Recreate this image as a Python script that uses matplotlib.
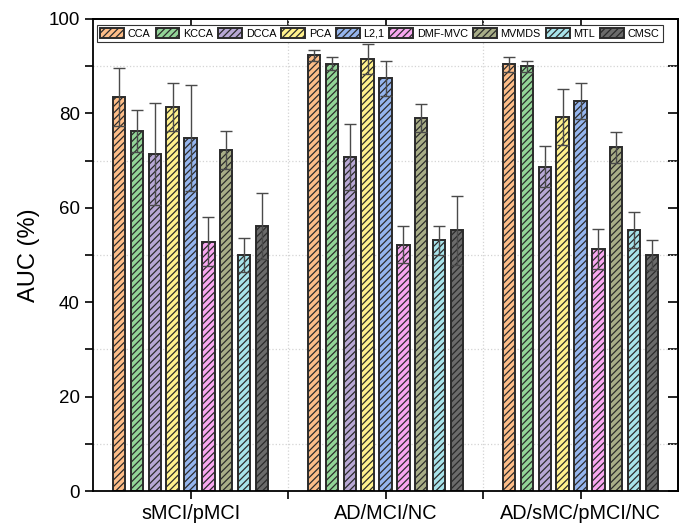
import numpy as np
import matplotlib.pyplot as plt
from matplotlib.ticker import MultipleLocator, FixedLocator

plt.rcParams['font.family'] = ['Liberation Sans', 'DejaVu Sans']
plt.rcParams['hatch.linewidth'] = 0.9

tasks = ['sMCI/pMCI', 'AD/MCI/NC', 'AD/sMC/pMCI/NC']
methods = ['CCA', 'KCCA', 'DCCA', 'PCA', 'L2,1', 'DMF-MVC', 'MVMDS', 'MTL', 'CMSC']
colors = ['#FDBD88', '#92D497', '#B8A8D5', '#FFF18C', '#95B5EE',
          '#F8A7F0', '#A8AD87', '#A8E3EA', '#6B6B6B']

# AUC mean per method, one entry per task
auc = {
    'CCA':     [83.5, 92.3, 90.4],
    'KCCA':    [76.3, 90.5, 90.0],
    'DCCA':    [71.3, 70.7, 68.7],
    'PCA':     [81.3, 91.5, 79.3],
    'L2,1':    [74.8, 87.4, 82.6],
    'DMF-MVC': [52.8, 52.2, 51.3],
    'MVMDS':   [72.3, 79.0, 72.8],
    'MTL':     [50.0, 53.1, 55.3],
    'CMSC':    [56.1, 55.2, 50.0],
}
# standard deviation
auc_std = {
    'CCA':     [6.1, 1.1, 1.6],
    'KCCA':    [4.4, 1.4, 1.2],
    'DCCA':    [10.8, 7.0, 4.4],
    'PCA':     [5.1, 3.1, 5.9],
    'L2,1':    [11.3, 3.8, 3.8],
    'DMF-MVC': [5.2, 4.0, 4.2],
    'MVMDS':   [4.0, 3.0, 3.3],
    'MTL':     [3.7, 3.0, 3.9],
    'CMSC':    [7.0, 7.3, 3.2],
}

x = np.arange(len(tasks))
pitch = 0.0915
width = 0.064

fig = plt.figure(figsize=(6.8, 5.27), dpi=100)
ax = fig.add_axes([0.1368, 0.0683, 0.8603, 0.8957])

for i, (m, c) in enumerate(zip(methods, colors)):
    pos = x + (i - 4) * pitch
    ax.bar(pos, auc[m], width, color=c, edgecolor='#2b2b2b', linewidth=1.4,
           hatch='/////', label=m, zorder=2)
    ax.errorbar(pos, auc[m], yerr=auc_std[m], fmt='none', ecolor='#4a4a4a',
                elinewidth=1.0, capsize=4, capthick=1.0, zorder=3)

ax.set_xlim(-0.5, 2.5)
ax.set_ylim(0, 100)
ax.set_xticks(x)
ax.set_xticklabels(tasks, fontsize=14.3)
ax.xaxis.set_minor_locator(FixedLocator([0.5, 1.5]))
ax.yaxis.set_major_locator(MultipleLocator(20))
ax.yaxis.set_minor_locator(FixedLocator([10, 30, 50, 70, 90]))
ax.tick_params(axis='y', labelsize=13.5)
ax.set_ylabel('AUC (%)', fontsize=17, labelpad=6)
ax.tick_params(which='both', direction='out', length=6, width=1.2,
               top=False, right=False)

# mirrored ticks on top and right, pointing inward
sec_x = ax.secondary_xaxis('top')
sec_x.set_xticks(x)
sec_x.xaxis.set_minor_locator(FixedLocator([0.5, 1.5]))
sec_x.tick_params(which='both', direction='in', length=6, width=1.2, labeltop=False)
sec_x.set_xticklabels([])
sec_y = ax.secondary_yaxis('right')
sec_y.yaxis.set_major_locator(MultipleLocator(20))
sec_y.yaxis.set_minor_locator(FixedLocator([10, 30, 50, 70, 90]))
sec_y.tick_params(which='both', direction='in', length=7, width=1.2, labelright=False)

for sp in ax.spines.values():
    sp.set_linewidth(1.3)
sec_x.spines['top'].set_linewidth(1.3)
sec_y.spines['right'].set_linewidth(1.3)

ax.grid(which='minor', color='#d4d4d4', linestyle=':', linewidth=0.9, zorder=0)
ax.set_axisbelow(True)

leg = ax.legend(ncol=9, loc='upper left', bbox_to_anchor=(0.007, 0.987),
                borderaxespad=0, fontsize=7.8, handlelength=2.2, handleheight=1.0,
                handletextpad=0.35, columnspacing=0.45, borderpad=0.3,
                fancybox=False, framealpha=1, edgecolor='#333333')
leg.get_frame().set_linewidth(0.8)

fig.savefig('out.png', dpi=100)
